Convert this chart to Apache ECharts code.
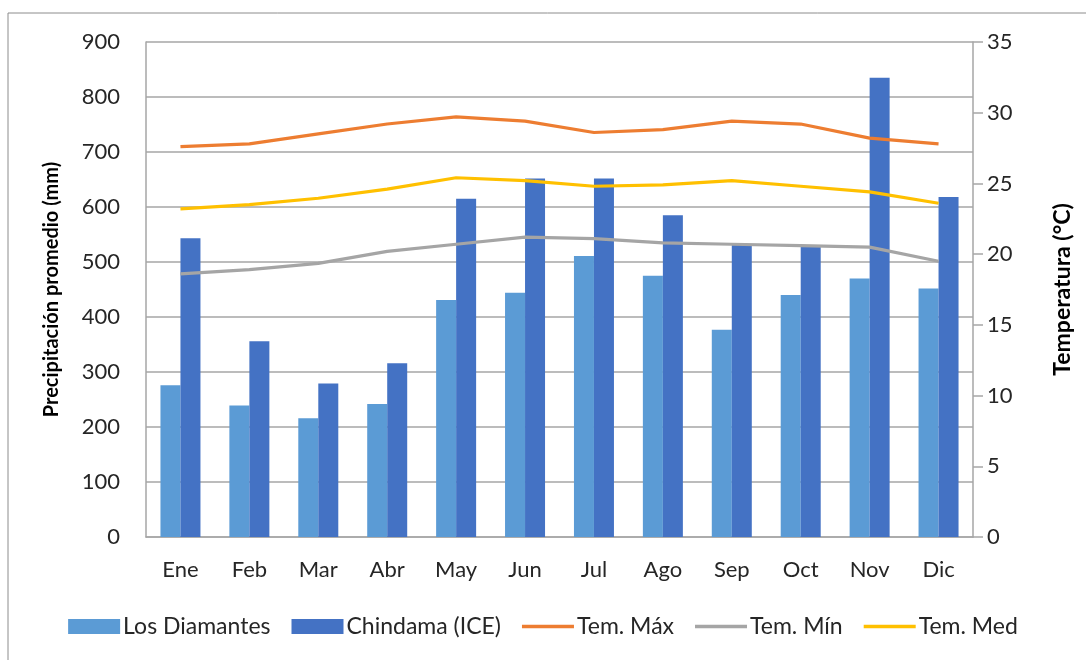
<!DOCTYPE html>
<html>
<head>
<meta charset="utf-8">
<script src="https://cdn.jsdelivr.net/npm/echarts@6/dist/echarts.min.js"></script>
<style>
  html, body { margin: 0; padding: 0; background: #fff; }
  #chart { width: 1086px; height: 660px; }
</style>
</head>
<body>
<div id="chart"></div>
<script>
// datos
const meses = ['Ene', 'Feb', 'Mar', 'Abr', 'May', 'Jun', 'Jul', 'Ago', 'Sep', 'Oct', 'Nov', 'Dic']
const losDiamantes = [276, 239, 216, 242, 431, 444, 511, 475, 377, 440, 470, 452]
const chindama = [543, 356, 279, 316, 615, 652, 652, 585, 531, 528, 835, 618]
const temMax = [27.6, 27.8, 28.5, 29.2, 29.7, 29.4, 28.6, 28.8, 29.4, 29.2, 28.2, 27.8]
const temMin = [18.6, 18.9, 19.35, 20.2, 20.7, 21.2, 21.1, 20.8, 20.7, 20.6, 20.5, 19.5]
const temMed = [23.2, 23.5, 23.95, 24.6, 25.4, 25.2, 24.8, 24.9, 25.2, 24.8, 24.4, 23.6]

const fuente = 'Lato'
const gris = '#A6A6A6'
const texto = '#262626'
const iconoLinea = 'path://M0,0 L52,0 L52,3.5 L0,3.5 Z'

const chart = echarts.init(document.getElementById('chart'))

const lineSerie = (name, data, color) => ({
  name: name,
  type: 'line',
  yAxisIndex: 1,
  data: data,
  symbol: 'none',
  lineStyle: { color: color, width: 3.2 },
  itemStyle: { color: color },
  z: 5
})

const option = {
  backgroundColor: '#fff',
  textStyle: { fontFamily: fuente },
  animation: false,
  graphic: [{
    type: 'rect',
    shape: { x: 8, y: 13, width: 1100, height: 700 },
    style: { fill: 'none', stroke: '#8C8C8C', lineWidth: 1 },
    silent: true
  }],
  grid: { left: 146, right: 113, top: 42, bottom: 123 },
  legend: {
    bottom: 17,
    left: 'center',
    itemWidth: 52,
    itemHeight: 15,
    itemGap: 21,
    symbolKeepAspect: true,
    textStyle: { fontFamily: fuente, fontSize: 23, color: texto, padding: [0, 0, 0, -2] },
    data: [
      { name: 'Los Diamantes', icon: 'rect' },
      { name: 'Chindama (ICE)', icon: 'rect' },
      { name: 'Tem. Máx', icon: iconoLinea },
      { name: 'Tem. Mín', icon: iconoLinea },
      { name: 'Tem. Med', icon: iconoLinea }
    ]
  },
  xAxis: {
    type: 'category',
    data: meses,
    axisLine: { lineStyle: { color: gris, width: 1.5 } },
    axisTick: { show: false },
    axisLabel: { fontFamily: fuente, fontSize: 22, color: texto, margin: 22 }
  },
  yAxis: [
    {
      type: 'value',
      min: 0,
      max: 900,
      interval: 100,
      name: 'Precipitación promedio (mm)',
      nameLocation: 'middle',
      nameGap: 84,
      nameTextStyle: { fontFamily: fuente, fontSize: 20, fontWeight: 'bold', color: '#000' },
      axisLine: { show: true, lineStyle: { color: gris, width: 1.5 } },
      axisTick: { show: false },
      splitLine: { lineStyle: { color: gris, width: 1.5 } },
      axisLabel: { fontFamily: fuente, fontSize: 22, color: texto, margin: 26 }
    },
    {
      type: 'value',
      min: 0,
      max: 35,
      interval: 5,
      name: 'Temperatura (°C)',
      nameLocation: 'middle',
      nameGap: 78,
      nameTextStyle: { fontFamily: fuente, fontSize: 23, fontWeight: 'bold', color: '#000' },
      axisLine: { show: true, lineStyle: { color: gris, width: 1.5 } },
      axisTick: { show: true, length: 10, lineStyle: { color: gris, width: 1.5 } },
      splitLine: { show: false },
      axisLabel: { fontFamily: fuente, fontSize: 22, color: texto, margin: 14 }
    }
  ],
  series: [
    {
      name: 'Los Diamantes',
      type: 'bar',
      data: losDiamantes,
      barWidth: 20,
      barGap: '0%',
      itemStyle: { color: '#5B9BD5' }
    },
    {
      name: 'Chindama (ICE)',
      type: 'bar',
      data: chindama,
      barWidth: 20,
      barGap: '0%',
      itemStyle: { color: '#4472C4' }
    },
    lineSerie('Tem. Máx', temMax, '#ED7D31'),
    lineSerie('Tem. Mín', temMin, '#A5A5A5'),
    lineSerie('Tem. Med', temMed, '#FFC000')
  ]
}

chart.setOption(option)
</script>
</body>
</html>
